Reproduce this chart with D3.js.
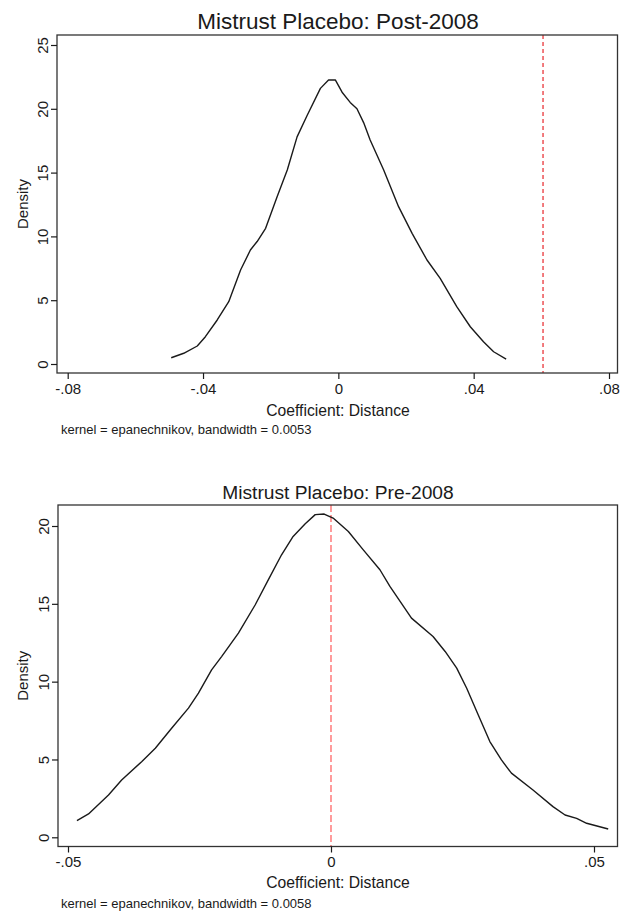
<!DOCTYPE html>
<html>
<head>
<meta charset="utf-8">
<script src="https://cdnjs.cloudflare.com/ajax/libs/d3/7.8.5/d3.min.js"></script>
<style>
  body { margin: 0; background: #fff; }
  text { font-family: "Liberation Sans", Arial, sans-serif; fill: #1a1a1a; }
</style>
</head>
<body>
<div id="vis"></div>
<script>
const width = 621;
const height = 916;

// Post-2008 placebo density
const postX = [-0.0494, -0.0457, -0.0417, -0.0393, -0.0358, -0.0324, -0.0289, -0.0260, -0.0240, -0.0215,
  -0.0181, -0.0151, -0.0122, -0.0092, -0.0053, -0.0029, -0.0009, 0.0011, 0.0035, 0.0055,
  0.0075, 0.0094, 0.0134, 0.0178, 0.0218, 0.0262, 0.0301, 0.0350, 0.0390, 0.0429, 0.0459, 0.0496];
const postY = [0.49, 0.84, 1.41, 2.14, 3.45, 4.88, 7.37, 8.93, 9.6, 10.63,
  13.11, 15.2, 17.8, 19.5, 21.6, 22.26, 22.26, 21.3, 20.5, 20.0,
  18.9, 17.55, 15.2, 12.33, 10.24, 8.15, 6.71, 4.49, 2.92, 1.75, 0.96, 0.39];

// Pre-2008 placebo density
const preX = [-0.0483, -0.0461, -0.0423, -0.0398, -0.0360, -0.0334, -0.0303, -0.0271, -0.0252, -0.0227,
  -0.0208, -0.0176, -0.0144, -0.0119, -0.0094, -0.0072, -0.0049, -0.0030, -0.0013, 0.0004,
  0.0033, 0.0061, 0.0093, 0.0112, 0.0153, 0.0194, 0.0217, 0.0239, 0.0258, 0.0280,
  0.0302, 0.0324, 0.0343, 0.0384, 0.0422, 0.0445, 0.0467, 0.0486, 0.0527];
const preY = [1.07, 1.50, 2.72, 3.68, 4.86, 5.72, 7.01, 8.30, 9.26, 10.76,
  11.61, 13.12, 14.94, 16.55, 18.15, 19.33, 20.15, 20.73, 20.77, 20.51,
  19.65, 18.48, 17.19, 16.12, 14.08, 12.90, 11.94, 10.87, 9.58, 7.86,
  6.15, 4.97, 4.12, 3.04, 1.97, 1.43, 1.22, 0.90, 0.53];

const postXTicks = [-0.08, -0.04, 0, 0.04, 0.08];
const postYTicks = [0, 5, 10, 15, 20, 25];
const preXTicks = [-0.05, 0, 0.05];
const preYTicks = [0, 5, 10, 15, 20];

const postRef = 0.0605;
const preRef = 0;

const svg = d3.select("#vis")
  .append("svg")
  .attr("width", width)
  .attr("height", height);

// stata style number format: -.08, 0, .04 (plain hyphen, no leading zero)
const stataFmt = d => d === 0 ? "0" : d3.format(".2f")(d).replace("\u2212", "-").replace("0.", ".");

function drawPanel(p) {
  const x = d3.scaleLinear().domain(p.xDomain).range(p.xRange);
  const y = d3.scaleLinear().domain(p.yDomain).range(p.yRange);
  const g = svg.append("g");

  g.append("text")
    .attr("x", 338)
    .attr("y", p.titleY)
    .attr("text-anchor", "middle")
    .attr("font-size", p.titleSize + "px")
    .text(p.title);

  // reference line
  g.append("line")
    .attr("x1", x(p.ref)).attr("x2", x(p.ref))
    .attr("y1", p.box.top).attr("y2", p.box.bottom)
    .attr("stroke", p.refColor)
    .attr("stroke-width", 1.2)
    .attr("stroke-dasharray", p.refDash);

  g.append("path")
    .datum(p.xs.map((v, i) => [v, p.ys[i]]))
    .attr("fill", "none")
    .attr("stroke", "#1a1a1a")
    .attr("stroke-width", 1.4)
    .attr("stroke-linejoin", "round")
    .attr("d", d3.line().x(d => x(d[0])).y(d => y(d[1])));

  g.append("rect")
    .attr("x", p.box.left)
    .attr("y", p.box.top)
    .attr("width", p.box.right - p.box.left)
    .attr("height", p.box.bottom - p.box.top)
    .attr("fill", "none")
    .attr("stroke", "#333")
    .attr("stroke-width", 1.3);

  const xAxis = g.append("g")
    .attr("transform", `translate(0,${p.box.bottom})`)
    .call(d3.axisBottom(x).tickValues(p.xTicks).tickFormat(stataFmt).tickSize(6).tickPadding(4));
  xAxis.select(".domain").remove();
  xAxis.selectAll("line").attr("stroke", "#1a1a1a").attr("stroke-width", 1.2);
  xAxis.selectAll("text")
    .attr("font-size", "15px")
    .attr("font-family", "Liberation Sans, Arial, sans-serif")
    .attr("fill", "#1a1a1a");

  const yAxis = g.append("g")
    .attr("transform", `translate(${p.box.left},0)`)
    .call(d3.axisLeft(y).tickValues(p.yTicks).tickSize(6));
  yAxis.select(".domain").remove();
  yAxis.selectAll("line").attr("stroke", "#1a1a1a").attr("stroke-width", 1.2);
  yAxis.selectAll("text")
    .attr("x", 0)
    .attr("dy", 0)
    .attr("text-anchor", "middle")
    .attr("transform", "translate(-9,0) rotate(-90)")
    .attr("font-size", "15px")
    .attr("font-family", "Liberation Sans, Arial, sans-serif")
    .attr("fill", "#1a1a1a");

  g.append("text")
    .attr("transform", `translate(28,${(p.box.top + p.box.bottom) / 2}) rotate(-90)`)
    .attr("text-anchor", "middle")
    .attr("font-size", "15px")
    .text("Density");

  g.append("text")
    .attr("x", 338)
    .attr("y", p.box.bottom + p.xTitleOff)
    .attr("text-anchor", "middle")
    .attr("font-size", "15.7px")
    .text("Coefficient: Distance");

  g.append("text")
    .attr("x", 61)
    .attr("y", p.box.bottom + 61)
    .attr("font-size", "13px")
    .text(p.note);
}

drawPanel({
  title: "Mistrust Placebo: Post-2008",
  titleY: 28.5,
  titleSize: 22.5,
  xs: postX, ys: postY,
  xDomain: [-0.08, 0.08], xRange: [67.7, 609],
  yDomain: [0, 25], yRange: [364, 45],
  box: { left: 57, right: 617.5, top: 35, bottom: 373 },
  xTicks: postXTicks, yTicks: postYTicks,
  ref: postRef, refColor: "#e8262b", refDash: "4,3",
  xTitleOff: 43,
  note: "kernel = epanechnikov, bandwidth = 0.0053"
});

drawPanel({
  title: "Mistrust Placebo: Pre-2008",
  titleY: 498.5,
  titleSize: 19.2,
  xs: preX, ys: preY,
  xDomain: [-0.05, 0.05], xRange: [68, 594],
  yDomain: [0, 20], yRange: [837.3, 526],
  box: { left: 58, right: 617.5, top: 505, bottom: 846.5 },
  xTicks: preXTicks, yTicks: preYTicks,
  ref: preRef, refColor: "#ff5a5a", refDash: "7,3",
  xTitleOff: 41,
  note: "kernel = epanechnikov, bandwidth = 0.0058"
});
</script>
</body>
</html>
